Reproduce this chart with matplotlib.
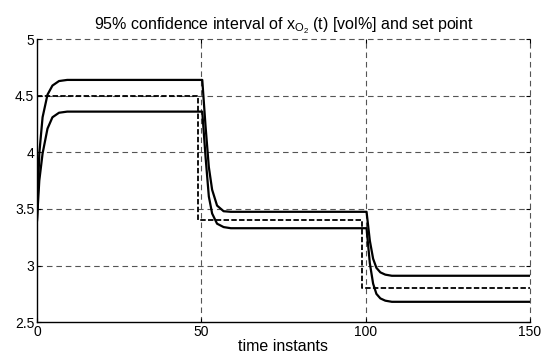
import numpy as np
import matplotlib
matplotlib.use('Agg')
import matplotlib.pyplot as plt

# values
t_upper = [0, 0.7, 1.7, 3.2, 4.7, 6.7, 9.2, 50.3, 51.3, 52.3, 53.3, 54.8, 56.8, 59,
           100.3, 101.3, 102.3, 103.3, 104.5, 106, 108, 150]
x_upper = [3.40, 3.99, 4.31, 4.51, 4.59, 4.63, 4.64, 4.64, 4.23, 3.87, 3.67, 3.53, 3.48, 3.475,
           3.475, 3.22, 3.06, 2.98, 2.94, 2.92, 2.91, 2.91]

t_lower = [0, 0.7, 1.7, 3.2, 4.7, 6.7, 9.2, 50.3, 51.3, 52.3, 53.3, 54.8, 56.8, 59,
           100.3, 101.3, 102.3, 103.3, 104.5, 106, 108, 150]
x_lower = [3.40, 3.75, 3.99, 4.21, 4.31, 4.35, 4.36, 4.36, 3.96, 3.61, 3.46, 3.37, 3.34, 3.33,
           3.33, 3.02, 2.84, 2.75, 2.71, 2.69, 2.68, 2.68]

t_setpoint = [0, 49, 99, 150]
x_setpoint = [4.5, 3.4, 2.8, 2.8]

xticks = [0, 50, 100, 150]
yticks = [2.5, 3, 3.5, 4, 4.5, 5]
ytick_labels = ['2.5', '3', '3.5', '4', '4.5', '5']

plt.rcParams['font.family'] = ['Liberation Sans', 'DejaVu Sans']
plt.rcParams['mathtext.fontset'] = 'custom'
plt.rcParams['mathtext.rm'] = 'Liberation Sans'
plt.rcParams['mathtext.it'] = 'Liberation Sans'

fig = plt.figure(figsize=(5.44, 3.56), dpi=100)
ax = fig.add_axes([0.068, 0.095, 0.906, 0.795])

ax.plot(t_upper, x_upper, color='k', lw=1.6)
ax.plot(t_lower, x_lower, color='k', lw=1.6)
ax.plot(t_setpoint, x_setpoint, color='k', lw=1.3, ls=(0, (3, 1.3)), drawstyle='steps-post')

ax.set_xlim(0, 150)
ax.set_ylim(2.5, 5)
ax.set_xticks(xticks)
ax.set_yticks(yticks)
ax.set_yticklabels(ytick_labels)

for v in xticks[1:]:
    ax.axvline(v, color='#555555', lw=0.8, ls=(0, (5, 3.5)), clip_on=False, zorder=0)
for v in yticks[1:]:
    ax.axhline(v, color='#555555', lw=0.8, ls=(0, (5, 3.5)), clip_on=False, zorder=0)

ax.spines['top'].set_visible(False)
ax.spines['right'].set_visible(False)
ax.spines['left'].set_linewidth(1.0)
ax.spines['bottom'].set_linewidth(1.0)
ax.tick_params(direction='in', top=True, right=True, length=3, width=0.8,
               labelsize=10, pad=2)

ax.set_title(r'95% confidence interval of x$_{\mathrm{O}_{2}}$ (t) [vol%] and set point',
             fontsize=11.5, pad=7)
ax.set_xlabel('time instants', fontsize=11.5, labelpad=0)

fig.savefig('out.png', dpi=100)
